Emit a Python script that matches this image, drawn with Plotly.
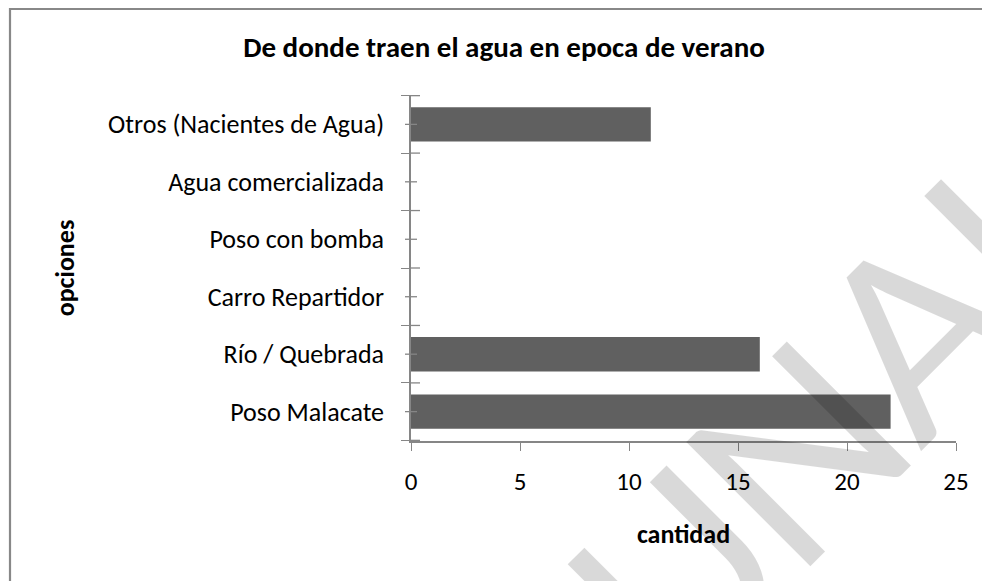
import plotly.graph_objects as go

# ---- data ----
categories = ["Poso Malacate", "Río / Quebrada", "Carro Repartidor",
              "Poso con bomba", "Agua comercializada", "Otros (Nacientes de Agua)"]
cantidad = [22, 16, 0, 0, 0, 11]
x_ticks = [0, 5, 10, 15, 20, 25]
title_text = "De donde traen el agua en epoca de verano"
x_title = "cantidad"
y_title = "opciones"
watermark = "UNAH"

FONT = "Carlito, Calibri, Lato, sans-serif"
AXIS = "#868686"
OFF = 8  # browser body margin
W, H = 990, 581
L, T = 411 - OFF, 95 - OFF
pw, ph = 545, 346
R, B = W - L - pw, H - T - ph


def px_x(sx):  # screen x -> paper x
    return (sx - OFF - L) / pw


def px_y(sy):  # screen y -> paper y
    return (T + ph - (sy - OFF)) / ph


fig = go.Figure()
fig.add_trace(go.Bar(
    y=categories, x=cantidad, orientation="h",
    marker=dict(color="#606060", line=dict(width=0)),
    hoverinfo="x+y", showlegend=False,
))

shapes = []
n = len(categories)
for i in range(n + 1):
    shapes.append(dict(type="line", xref="paper", yref="y",
                       x0=0, x1=9 / pw, y0=i - 0.5, y1=i - 0.5,
                       line=dict(color=AXIS, width=1.3)))
for i in range(n):
    shapes.append(dict(type="line", xref="paper", yref="y",
                       x0=-6 / pw, x1=6 / pw, y0=i, y1=i,
                       line=dict(color=AXIS, width=1.3)))
# chart frame
shapes.append(dict(type="rect", xref="paper", yref="paper",
                   x0=px_x(10), x1=px_x(1010), y0=px_y(620), y1=px_y(OFF + 0.8),
                   line=dict(color="#888888", width=2.2), fillcolor="rgba(0,0,0,0)"))

# diagonal watermark, one letter at a time (screen positions of letter centres)
wm_start = (678, 576)
wm_step = (119, -123)
annotations = []
for k, ch in enumerate(watermark):
    cx = wm_start[0] + k * wm_step[0] - 4
    cy = wm_start[1] + k * wm_step[1] - 4
    annotations.append(dict(text=ch, xref="paper", yref="paper",
                            x=px_x(cx), y=px_y(cy), showarrow=False, textangle=-45,
                            font=dict(family="Lato, sans-serif", size=245,
                                      color="rgba(0,0,0,0.15)"),
                            xanchor="center", yanchor="middle"))

fig.update_layout(
    width=W, height=H,
    margin=dict(l=L, r=R, t=T, b=B),
    paper_bgcolor="white", plot_bgcolor="white",
    font=dict(family=FONT, color="black", size=26),
    bargap=0.4,
    title=dict(text=title_text, x=px_x(504), xref="paper", xanchor="center",
               y=1 - (47 - OFF) / H, yanchor="middle",
               font=dict(family=FONT, size=29, color="black", weight="bold")),
    xaxis=dict(range=[0, 25], tickvals=x_ticks, ticks="outside", ticklen=8,
               tickcolor=AXIS, tickwidth=1.3, showline=True, linecolor=AXIS,
               linewidth=1.5, showgrid=False, zeroline=False,
               tickfont=dict(size=25), ticklabelstandoff=9,
               title=dict(text=x_title, font=dict(size=26, weight="bold"), standoff=29)),
    yaxis=dict(type="category", categoryorder="array", categoryarray=categories,
               ticks="outside", ticklen=8, tickson="boundaries",
               tickcolor=AXIS, tickwidth=1.3, showline=True, linecolor=AXIS,
               linewidth=1.5, showgrid=False, zeroline=False,
               tickfont=dict(size=26), ticklabelstandoff=20,
               title=dict(text=y_title, font=dict(size=26, weight="bold"), standoff=26)),
    shapes=shapes,
    annotations=annotations,
)

fig.write_html("out.html")
